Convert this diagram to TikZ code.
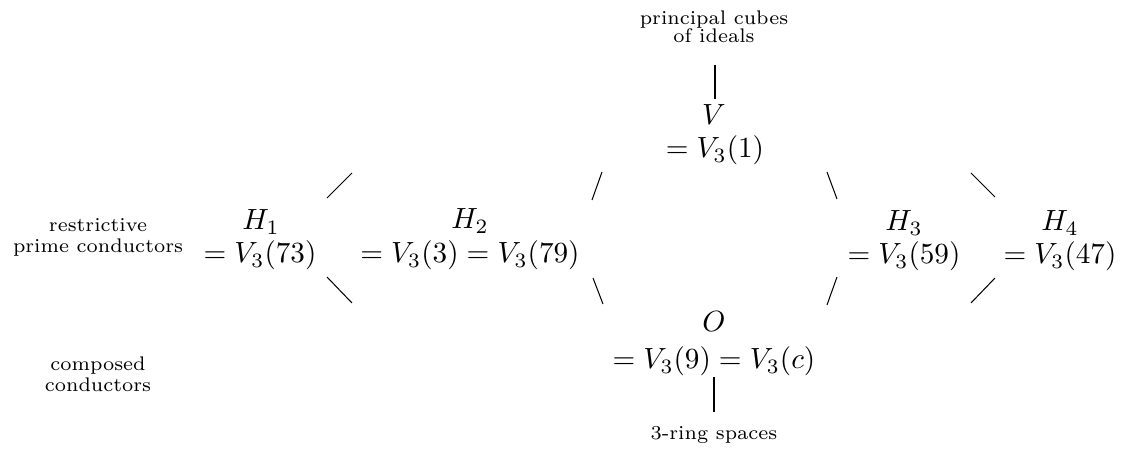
\documentclass[tikz,border=0pt]{standalone}
\begin{document}
\begin{tikzpicture}[x=0.3425pt,y=-0.3425pt,
  lbl/.style={font=\fontsize{6.75pt}{8pt}\selectfont, inner sep=0pt, anchor=base},
  mth/.style={inner sep=0pt, anchor=base},
  seg/.style={line width=0.35pt}]
\useasboundingbox (0,0) rectangle (1128,453);
% side labels
\node[lbl] (pc1) at (714,25) {principal cubes};
\node[lbl] (pc2) at (714,43) {of ideals};
\node[lbl] (rp1) at (98,232) {restrictive};
\node[lbl] (rp2) at (98,253) {prime conductors};
\node[lbl] (cc1) at (98,371) {composed};
\node[lbl] (cc2) at (98,392) {conductors};
\node[lbl] (rs) at (714,440) {3-ring spaces};
% math nodes
\node[mth] (V) at (714,125) {$V$};
\node[mth] (Veq) at (715,158) {$=V_3(1)$};
\node[mth] (H1) at (261,230) {$H_1$};
\node[mth] (H1eq) at (260,263) {$=V_3(73)$};
\node[mth] (H2) at (470,229) {$H_2$};
\node[mth] (H2eq) at (470,263) {$=V_3(3)=V_3(79)$};
\node[mth] (H3) at (904,231) {$H_3$};
\node[mth] (H3eq) at (904,264) {$=V_3(59)$};
\node[mth] (H4) at (1060,231) {$H_4$};
\node[mth] (H4eq) at (1060,264) {$=V_3(47)$};
\node[mth] (O) at (714,332) {$O$};
\node[mth] (Oeq) at (714,369) {$=V_3(9)=V_3(c)$};
% connector end points
\coordinate (t1) at (715,65);  \coordinate (t2) at (715,99);
\coordinate (b1) at (714,377); \coordinate (b2) at (714,412);
\coordinate (a1) at (327,198); \coordinate (a2) at (352,173);
\coordinate (c1) at (327,277); \coordinate (c2) at (352,303);
\coordinate (d1) at (592,200); \coordinate (d2) at (602,172);
\coordinate (e1) at (593,278); \coordinate (e2) at (603,304);
\coordinate (f1) at (827,172); \coordinate (f2) at (837,199);
\coordinate (g1) at (827,305); \coordinate (g2) at (837,277);
\coordinate (k1) at (971,173); \coordinate (k2) at (995,197);
\coordinate (m1) at (971,303); \coordinate (m2) at (995,278);
\draw[seg] (t1) -- (t2);
\draw[seg] (b1) -- (b2);
\draw[seg] (a1) -- (a2);
\draw[seg] (c1) -- (c2);
\draw[seg] (d1) -- (d2);
\draw[seg] (e1) -- (e2);
\draw[seg] (f1) -- (f2);
\draw[seg] (g1) -- (g2);
\draw[seg] (k1) -- (k2);
\draw[seg] (m1) -- (m2);
\end{tikzpicture}
\end{document}
